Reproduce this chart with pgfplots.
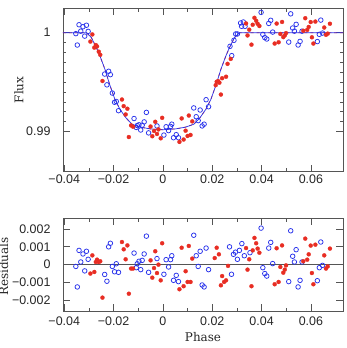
\documentclass[border=0pt]{standalone}
\usepackage{pgfplots}
\pgfplotsset{compat=1.18}
\usepackage{fontspec}
\setmainfont{DejaVu Serif}
\newfontfamily\tickfont{Liberation Sans}
\definecolor{ptblue}{RGB}{40,50,235}
\definecolor{ptred}{RGB}{232,45,35}
\definecolor{frame}{RGB}{85,85,85}

\pgfplotstableread{
x y
-0.0405 1
-0.031 1
-0.029 0.9995
-0.027 0.9985
-0.0256 0.9977
-0.0235 0.9963
-0.0215 0.9947
-0.0195 0.9933
-0.0175 0.9923
-0.015 0.9914
-0.0125 0.99075
-0.009 0.99045
-0.005 0.99028
0 0.9902
0.005 0.99028
0.009 0.99045
0.0125 0.99075
0.015 0.9914
0.0175 0.9923
0.0195 0.9933
0.0215 0.9947
0.0235 0.9963
0.0256 0.9977
0.027 0.9985
0.029 0.9995
0.031 1
0.073 1
}\model

\pgfplotstableread{
x y
-0.0353 0.9999
-0.0347 0.99875
-0.0340 1.0008
-0.0333 1.00015
-0.0324 1.0006
-0.0317 0.99965
-0.0310 1.00075
-0.0303 1.00013
-0.0236 0.99582
-0.0227 0.99473
-0.0220 0.9961
-0.0213 0.99576
-0.0205 0.9939
-0.0196 0.99297
-0.0189 0.99305
-0.0180 0.99212
-0.0117 0.99133
-0.0108 0.99043
-0.0104 0.99062
-0.0097 0.9907
-0.0090 0.99017
-0.0084 0.99066
-0.0076 0.99099
-0.0067 0.99195
-0.0058 0.98988
-0.0024 0.99058
0.0004 0.98966
0.0013 0.9905
0.0023 0.99011
0.0031 0.99053
0.0036 0.99076
0.0043 0.98939
0.0054 0.9897
0.0063 0.98939
0.0125 0.9924
0.0135 0.99151
0.0143 0.99112
0.0151 0.99219
0.0159 0.99058
0.0167 0.99076
0.0175 0.99323
0.0185 0.99252
0.0272 0.99862
0.0279 0.99768
0.0288 0.99923
0.0295 0.99987
0.0302 0.99987
0.0315 1.00098
0.0319 1.00064
0.0326 1.00108
0.0333 1.00064
0.0398 1.00205
0.0405 0.99983
0.0413 0.9995
0.0421 0.99936
0.0429 1.00093
0.0437 1.00125
0.0445 1.00006
0.0510 0.99905
0.0518 1.0019
0.0526 1.00047
0.0533 1.00015
0.0540 1.00084
0.0548 0.99875
0.0556 0.99912
0.0564 1.00015
0.0626 0.9991
0.0634 0.99983
0.0640 1.00127
0.0647 0.99996
}\bluetop

\pgfplotstableread{
x y
-0.0294 0.9991
-0.0286 0.99982
-0.0278 0.99849
-0.0272 0.99875
-0.0267 0.99861
-0.0260 0.99808
-0.0254 0.99776
-0.0245 0.99512
-0.0166 0.99325
-0.0159 0.99258
-0.0151 0.99174
-0.0144 0.99232
-0.0138 0.98946
-0.0129 0.99063
-0.0121 0.9905
-0.0050 0.99052
-0.0043 0.98954
-0.0036 0.99007
-0.0031 0.991
-0.0024 0.98977
-0.0018 0.99023
-0.0009 0.98933
-0.0003 0.9914
0.0067 0.98897
0.0076 0.99134
0.0084 0.98921
0.0092 0.9901
0.0100 0.98957
0.0105 0.99163
0.0112 0.98967
0.0119 0.99104
0.0214 0.9947
0.0218 0.99505
0.0224 0.9951
0.0229 0.99495
0.0235 0.99375
0.0240 0.9954
0.0256 0.99555
0.0262 0.99685
0.0275 0.99735
0.0337 1.00093
0.0343 0.99972
0.0350 1.0003
0.0359 0.99879
0.0364 1.0008
0.0371 1.0015
0.0378 1.0012
0.0384 1.0009
0.0391 1.00067
0.0453 0.9989
0.0461 1.00092
0.0469 0.99903
0.0476 0.99987
0.0483 1.00108
0.0488 0.99955
0.0494 0.99972
0.0499 0.99996
0.0569 1.00019
0.0577 1.00146
0.0585 1.00028
0.0591 1.00058
0.0599 1.00107
0.0604 0.99953
0.0610 0.9989
0.0618 1.00112
0.0654 1.00052
0.0661 0.99978
0.0668 0.9999
0.0677 1.0009
}\redtop

\pgfplotstableread{
x y
-0.0353 -0.0001
-0.0347 -0.00125
-0.0340 0.0008
-0.0333 0.00015
-0.0324 0.0006
-0.0317 -0.00035
-0.0310 0.00075
-0.0303 0.0003
-0.0236 -0.00055
-0.0227 -0.00093
-0.0220 0.001
-0.0213 0.0012
-0.0205 -0.0001
-0.0196 -0.0004
-0.0189 0.00005
-0.0180 -0.00043
-0.0117 0.00065
-0.0108 -0.00017
-0.0104 0.00005
-0.0097 0.00019
-0.0090 -0.00028
-0.0084 0.00024
-0.0076 0.0006
-0.0067 0.0016
-0.0058 -0.00043
-0.0024 0.00034
0.0004 -0.00054
0.0013 0.00028
0.0023 -0.00013
0.0031 0.00028
0.0036 0.0005
0.0043 -0.00088
0.0054 -0.0006
0.0063 -0.00095
0.0125 0.00165
0.0135 0.0005
0.0143 -0.0001
0.0151 0.00075
0.0159 -0.00114
0.0167 -0.00125
0.0175 0.00093
0.0185 -0.00028
0.0270 0.001
0.0278 -0.00054
0.0286 0.00058
0.0294 0.0007
0.0302 0.0003
0.0310 0.0008
0.0320 0.00118
0.0330 0.0005
0.0353 0.00067
0.0398 0.00205
0.0405 -0.00017
0.0413 -0.0005
0.0421 -0.00064
0.0429 0.00093
0.0437 0.00125
0.0445 0.00006
0.0510 -0.00095
0.0518 0.0019
0.0526 0.00047
0.0533 0.00015
0.0540 0.00084
0.0548 -0.00125
0.0556 -0.00088
0.0564 0.00015
0.0626 -0.0009
0.0634 -0.00017
0.0640 0.00127
0.0647 -0.00004
}\blueres

\pgfplotstableread{
x y
-0.0294 -0.0005
-0.0286 0.00052
-0.0278 -0.00041
-0.0272 0.00015
-0.0267 0.00028
-0.0260 0.00015
-0.0254 0.00019
-0.0245 -0.00185
-0.0166 0.00127
-0.0159 0.00086
-0.0151 0.0003
-0.0144 0.00108
-0.0138 -0.00163
-0.0129 -0.00022
-0.0121 -0.00022
-0.0050 0.00024
-0.0043 -0.00073
-0.0036 -0.00019
-0.0031 0.00075
-0.0024 -0.00047
-0.0018 0
-0.0009 -0.00088
-0.0003 0.0012
0.0067 -0.00138
0.0076 0.00095
0.0084 -0.00121
0.0092 -0.00037
0.0100 -0.00097
0.0105 0.00105
0.0112 -0.00097
0.0119 0.00034
0.0210 0.00037
0.0218 0.00095
0.0227 0.00058
0.0235 -0.00116
0.0240 -0.00064
0.0248 -0.00097
0.0256 -0.00088
0.0264 -0.00007
0.0337 0.00093
0.0343 -0.00028
0.0350 0.0003
0.0359 -0.00121
0.0364 0.0008
0.0371 0.0015
0.0378 0.0012
0.0384 0.0009
0.0391 0.00067
0.0453 -0.0011
0.0461 0.00092
0.0469 -0.00097
0.0476 -0.00013
0.0483 0.00108
0.0488 -0.00045
0.0494 -0.00028
0.0499 -0.00004
0.0569 0.00019
0.0577 0.00146
0.0585 0.00028
0.0591 0.00058
0.0599 0.00107
0.0604 -0.00047
0.0610 -0.0011
0.0618 0.00112
0.0654 0.00052
0.0661 -0.00022
0.0668 -0.0001
0.0677 0.0009
}\redres

\pgfplotsset{
  panel/.style={
    scale only axis,
    width=280bp,
    xmin=-0.0405, xmax=0.073,
    scaled x ticks=false, scaled y ticks=false,
    xtick={-0.04,-0.02,0,0.02,0.04,0.06},
    xticklabels={−0.04,−0.02,0,0.02,0.04,0.06},
    minor x tick num=1,
    tick align=inside,
    xtick pos=both, ytick pos=both,
    xticklabel pos=lower, yticklabel pos=left,
    axis line style={draw=frame, line width=0.9bp},
    every tick/.style={draw=frame, line width=0.8bp},
    major tick length=7bp,
    minor tick length=3.5bp,
    tick label style={font=\tickfont\fontsize{12.5}{14}\selectfont, text=black!85},
    yticklabel style={xshift=-9bp},
    label style={font=\fontsize{12}{14}\selectfont, text=black!85},
    clip=true,
  },
  bluemk/.style={only marks, mark=o, mark size=2.3bp, mark options={draw=ptblue, line width=0.75bp}},
  redmk/.style={only marks, mark=*, mark size=2.0bp, mark options={draw=ptred, fill=ptred, line width=0.3bp}},
}

\begin{document}
\begin{tikzpicture}[x=1bp,y=1bp]
\begin{axis}[panel,
  at={(63bp,-171.7bp)}, anchor=south west,
  height=163.4bp,
  ymin=0.98596, ymax=1.00246,
  ytick={0.99,1},
  yticklabels={0.99,1},
  minor y tick num=9,
  ylabel={Flux},
  ylabel style={at={(axis description cs:-0.157,0.5)}, anchor=center, rotate=0},
]
\addplot[ptred, dashed, line width=0.8bp] table {\model};
\addplot[ptblue, line width=0.7bp] table {\model};
\addplot[bluemk] table {\bluetop};
\addplot[redmk] table {\redtop};
\end{axis}
\begin{axis}[panel,
  at={(63bp,-311bp)}, anchor=south west,
  height=92.7bp,
  ymin=-0.0026, ymax=0.0026,
  ytick={-0.002,-0.001,0,0.001,0.002},
  yticklabels={−0.002,−0.001,0,0.001,0.002},
  xticklabel style={yshift=-2bp},
  ylabel={Residuals},
  ylabel style={at={(axis description cs:-0.212,0.48)}, anchor=center},
  xlabel={Phase},
  xlabel style={at={(axis description cs:0.5,-0.28)}, anchor=center},
]
\addplot[frame, line width=1.2bp] coordinates {(-0.0405,0) (0.073,0)};
\addplot[bluemk] table {\blueres};
\addplot[redmk] table {\redres};
\end{axis}
\pgfresetboundingbox
\path[use as bounding box] (0,0) rectangle (347bp,-348bp);
\end{tikzpicture}
\end{document}
